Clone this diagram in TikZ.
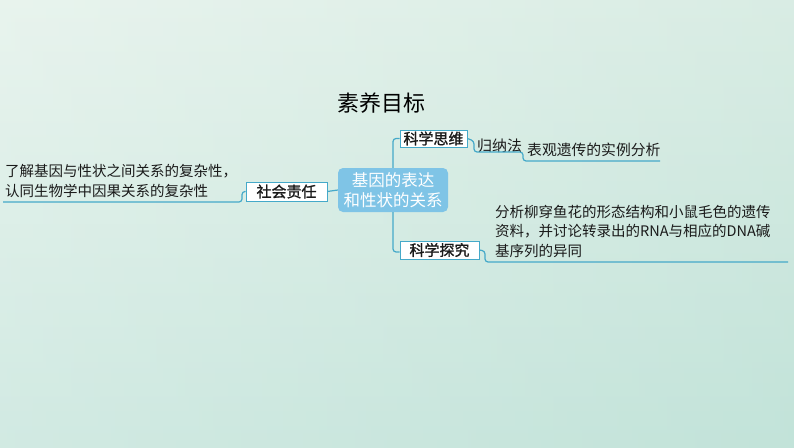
\documentclass[tikz,border=0pt]{standalone}
\usepackage{fontspec}
\setmainfont[AutoFakeBold=1.4]{Noto Sans CJK SC}
\definecolor{linea}{HTML}{45A9C9}
\definecolor{fondo}{HTML}{7FC4E6}
\definecolor{testo}{HTML}{1A1A1A}
\definecolor{sfondoA}{HTML}{E1F0E8}
\definecolor{sfondoB}{HTML}{C2E3D9}
\begin{document}
\begin{tikzpicture}[x=1pt, y=-1pt,
    link/.style={linea, line width=1.2pt, rounded corners=3pt},
    tag/.style={draw=linea, line width=0.9pt, fill=white, inner sep=0pt, text=testo, font=\fontsize{15}{15}\selectfont\bfseries},
    note/.style={inner sep=0pt, text=testo, align=left, font=\fontsize{14.5}{19.5}\selectfont}]

    % Sfondo verde chiaro
    \shade[top color=sfondoA, bottom color=sfondoB] (0,0) rectangle (794,447);
    \shade[left color=white, right color=sfondoB, opacity=0.25] (0,0) rectangle (794,447);
    \useasboundingbox (0,0) rectangle (794,447);

    % Titolo
    \node[text=black, font=\fontsize{22}{22}\selectfont] (titolo) at (381,103) {素养目标};

    % Nodo centrale
    \node[fill=fondo, rounded corners=5pt, minimum width=110pt, minimum height=44pt, inner sep=0pt,
          text=white, align=center, font=\fontsize{16.5}{20.5}\selectfont] (centro) at (393,190)
          {基因的表达\\和性状的关系};

    % Rami
    \node[tag, minimum width=81pt, minimum height=19pt] (sociale) at (286.5,191.5) {社会责任};
    \node[tag, minimum width=67pt, minimum height=17pt] (pensiero) at (433.5,138.5) {科学思维};
    \node[tag, minimum width=79pt, minimum height=18pt] (indagine) at (439.5,250) {科学探究};

    % Testi
    \node[note, anchor=west] (socialetxt) at (5,181) {了解基因与性状之间关系的复杂性，\\认同生物学中因果关系的复杂性};
    \node[note, anchor=west, font=\fontsize{15}{15}\selectfont] (induzione) at (477,145.5) {归纳法};
    \node[note, anchor=west, font=\fontsize{14.8}{15}\selectfont] (epigenetica) at (527,149.5) {表观遗传的实例分析};
    \node[note, anchor=north west] (indaginetxt) at (495,205) {分析柳穿鱼花的形态结构和小鼠毛色的遗传\\资料，并讨论转录出的RNA与相应的DNA碱\\基序列的异同};

    % Connettori
    \coordinate (fineS) at (3,202);
    \coordinate (fineP) at (660,161);
    \coordinate (fineI) at (788,262);
    \draw[link] (centro.west) -- (sociale.east);
    \draw[link] (centro.north) |- (pensiero.west);
    \draw[link] (centro.south) |- ([yshift=-2pt]indagine.west);
    \draw[link] (sociale.west) -- (242,191.5) -- (242,202) -- (fineS);
    \draw[link] (pensiero.east) -- (474,141) -- (474,152) -- (523,152) -- (523,161) -- (fineP);
    \draw[link] (indagine.east) -- (485,251) -- (485,262) -- (fineI);

\end{tikzpicture}
\end{document}
